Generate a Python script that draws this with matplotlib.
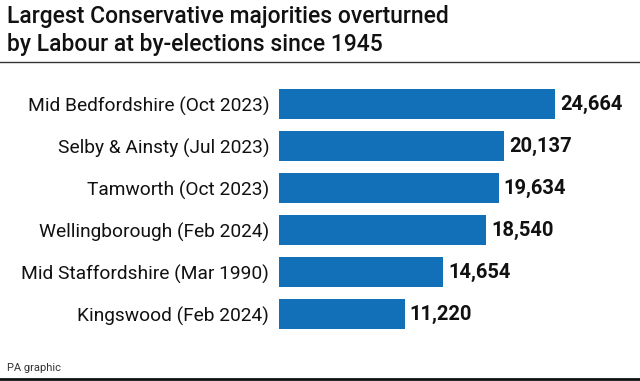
import matplotlib
matplotlib.use('Agg')
import matplotlib.pyplot as plt
from matplotlib.lines import Line2D

# data
labels = ['Mid Bedfordshire (Oct 2023)', 'Selby & Ainsty (Jul 2023)', 'Tamworth (Oct 2023)',
          'Wellingborough (Feb 2024)', 'Mid Staffordshire (Mar 1990)', 'Kingswood (Feb 2024)']
majorities = [24664, 20137, 19634, 18540, 14654, 11220]

plt.rcParams['font.family'] = ['Roboto', 'DejaVu Sans']

fig = plt.figure(figsize=(6.4, 3.81), dpi=100)
ax = fig.add_axes([279/640, 1-335/381, 361/640, 252/381])

ypos = list(range(len(labels)))
bars = ax.barh(ypos, majorities, height=0.71, color='#1170b8')
ax.set_ylim(len(labels)-0.5, -0.5)
ax.set_xlim(0, 32260)
ax.set_yticks(ypos)
ax.set_yticklabels(labels, fontsize=13.8, color='#111111')
ax.tick_params(axis='y', length=0, pad=7)
ax.set_xticks([])
for s in ax.spines.values():
    s.set_visible(False)

for b, v in zip(bars, majorities):
    ax.text(b.get_width() + 450, b.get_y() + b.get_height()/2, '{:,}'.format(v),
            va='center', ha='left', fontsize=14.5, fontweight='bold', color='#111111')

fig.text(7/640, 1-17/381, 'Largest Conservative majorities overturned',
         fontsize=16.5, fontweight='medium', va='center', ha='left', color='#111111')
fig.text(7/640, 1-45/381, 'by Labour at by-elections since 1945',
         fontsize=16.5, fontweight='medium', va='center', ha='left', color='#111111')
fig.text(7/640, 1-368/381, 'PA graphic', fontsize=8, va='center', ha='left', color='#333333')

fig.add_artist(Line2D([0, 1], [1-62/381, 1-62/381], color='#333333', lw=1))
fig.add_artist(Line2D([0, 1], [1-379/381, 1-379/381], color='#111111', lw=2))

fig.savefig('out.png', dpi=100)
